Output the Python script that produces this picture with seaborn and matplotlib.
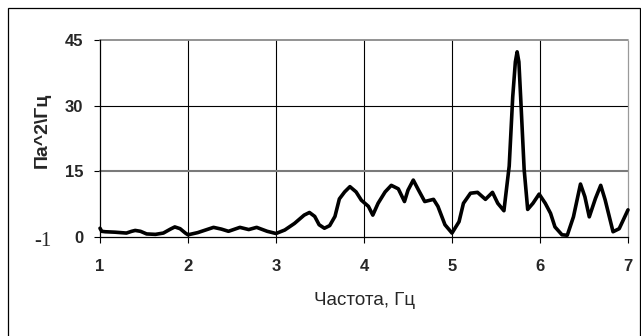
import numpy as np
import pandas as pd
import matplotlib
matplotlib.use("Agg")
import matplotlib.pyplot as plt
import seaborn as sns
from matplotlib.patches import Rectangle

# Спектр давления, значения
FREQ = [1.0, 1.02, 1.06, 1.17, 1.30, 1.36, 1.40, 1.46, 1.53, 1.63, 1.72, 1.80, 1.85, 1.91, 1.97, 2.0,
        2.11, 2.20, 2.29, 2.38, 2.46, 2.59, 2.69, 2.78, 2.9, 3.0, 3.1, 3.21, 3.32, 3.38, 3.44, 3.49,
        3.55, 3.61, 3.67, 3.72, 3.78, 3.84, 3.91, 3.97, 4.05, 4.10, 4.16, 4.24, 4.31, 4.39,
        4.46, 4.50, 4.56, 4.62, 4.69, 4.79, 4.84, 4.92, 5.0, 5.08, 5.13, 5.21, 5.29, 5.38,
        5.46, 5.52, 5.59, 5.65, 5.69, 5.72, 5.74, 5.76, 5.78, 5.82, 5.86, 5.92, 5.99, 6.06,
        6.12, 6.17, 6.25, 6.31, 6.38, 6.46, 6.51, 6.56, 6.63, 6.69, 6.74, 6.83, 6.90, 7.0]
PSD = [2.0, 1.3, 1.2, 1.1, 0.9, 1.3, 1.5, 1.3, 0.7, 0.6, 0.9, 1.8, 2.3, 1.9, 0.9, 0.5,
       1.0, 1.6, 2.2, 1.8, 1.3, 2.2, 1.7, 2.2, 1.3, 0.8, 1.6, 3.1, 5.0, 5.6, 4.7, 2.8,
       2.0, 2.6, 4.7, 8.7, 10.3, 11.5, 10.3, 8.4, 7.0, 5.0, 7.7, 10.3, 11.8, 11.0,
       8.1, 10.7, 13.0, 10.7, 8.1, 8.6, 7.0, 2.8, 0.9, 3.5, 7.7, 10.0, 10.2, 8.6,
       10.2, 7.7, 6.0, 16.2, 32.0, 40.0, 42.3, 40.0, 32.0, 15.4, 6.3, 7.7, 9.8, 7.7,
       5.4, 2.3, 0.5, 0.4, 4.6, 12.1, 9.2, 4.6, 8.8, 11.8, 8.5, 1.2, 1.9, 6.2]

X_TICKS = [1, 2, 3, 4, 5, 6, 7]
Y_TICKS = [0, 15, 30, 45]

df = pd.DataFrame({"f": FREQ, "p": PSD})

sns.set_theme(style="white")
plt.rcParams['font.family'] = ['Liberation Sans', 'DejaVu Sans']

fig = plt.figure(figsize=(6.41, 3.36), dpi=100)
ax = fig.add_axes([100 / 641, 1 - 237 / 336, 528 / 641, 197 / 336])

# сетка
for xv in X_TICKS[1:-1]:
    ax.axvline(xv, color="black", lw=0.8, zorder=1)
ax.axhline(30, color="black", lw=0.8, zorder=1)
ax.axhline(15, color="#7a7a7a", lw=1.5, zorder=1)
ax.axhline(45, color="#8a8a8a", lw=1.3, zorder=1)

sns.lineplot(data=df, x="f", y="p", sort=False, color="black", lw=2.6, ax=ax, zorder=3)
for line in ax.lines:
    line.set_clip_on(False)

ax.set_xlim(1, 7)
ax.set_ylim(0, 45)
ax.set_xticks(X_TICKS)
ax.set_yticks(Y_TICKS)
ax.tick_params(axis="both", which="major", labelsize=12, length=4, width=0.8,
               direction="out", color="black")
ax.tick_params(axis="x", bottom=True, pad=12)
ax.tick_params(axis="y", left=True, pad=8)
for lab in ax.get_xticklabels() + ax.get_yticklabels():
    lab.set_fontweight("bold")

for side in ["left", "bottom"]:
    ax.spines[side].set_color("black")
    ax.spines[side].set_linewidth(0.9)
ax.spines["top"].set_visible(False)
ax.spines["right"].set_color("#9a9a9a")
ax.spines["right"].set_linestyle((0, (1, 1)))
ax.spines["right"].set_linewidth(0.9)

ax.set_xlabel("Частота, Гц", fontsize=13.5, va="center")
ax.xaxis.set_label_coords(0.5, -0.32)
ax.set_ylabel("Па^2\\Гц", fontsize=14, fontweight="bold", va="center")
ax.yaxis.set_label_coords(-0.11, 0.54)

# лишняя подпись слева, как на скане
fig.text(43 / 641, 1 - 241 / 336, "-1", fontsize=15, family=["Liberation Serif"],
         ha="center", va="center")

# рамка вокруг рисунка
fig.patches.append(Rectangle((8 / 641, -0.01), 632 / 641, 1 - 8 / 336 + 0.01,
                             transform=fig.transFigure, fill=False,
                             edgecolor="black", lw=0.9))

plt.savefig("out.png", dpi=100)
plt.close()
